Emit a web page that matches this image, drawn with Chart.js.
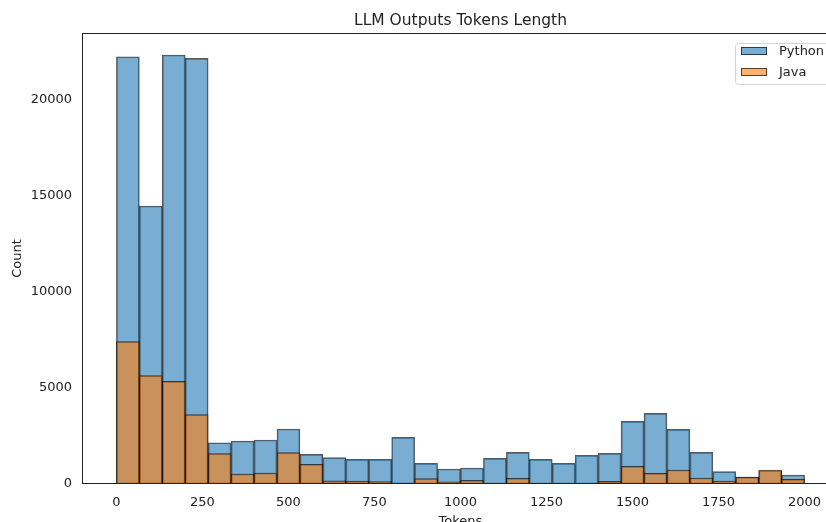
<!DOCTYPE html>
<html lang="en">
<head>
  <meta charset="UTF-8" />
  <title>LLM Outputs Tokens Length</title>
  <style>
    html, body {
      margin: 0;
      padding: 0;
      background: #fff;
      overflow: hidden;
    }
    #wrap {
      width: 870px;
      height: 532px;
    }
  </style>
</head>
<body>
  <div id="wrap"><canvas id="histChart" width="870" height="532"></canvas></div>

  <script src="https://cdn.jsdelivr.net/npm/chart.js"></script>
  <script>
    // 30 histogram bins over 0..2000 tokens (bin centres)
    const binCenters = [
      33.33, 100, 166.67, 233.33, 300, 366.67, 433.33, 500, 566.67, 633.33,
      700, 766.67, 833.33, 900, 966.67, 1033.33, 1100, 1166.67, 1233.33, 1300,
      1366.67, 1433.33, 1500, 1566.67, 1633.33, 1700, 1766.67, 1833.33, 1900, 1966.67
    ];
    const pythonCounts = [
      22255, 14480, 22345, 22170, 2150, 2240, 2290, 2865, 1545, 1372,
      1285, 1285, 2431, 1076, 781, 833, 1337, 1649, 1285, 1076,
      1493, 1597, 3264, 3681, 2847, 1649, 642, 360, 690, 469
    ];
    const javaCounts = [
      7413, 5642, 5347, 3611, 1580, 520, 573, 1632, 1024, 160,
      150, 120, 50, 278, 110, 190, 40, 295, 40, 40,
      30, 140, 920, 555, 729, 312, 156, 365, 720, 245
    ];
    const xTicks = [0, 250, 500, 750, 1000, 1250, 1500, 1750, 2000];
    const yTicks = [0, 5000, 10000, 15000, 20000];

    const textColor = '#222';
    Chart.defaults.font.family = "'DejaVu Sans', sans-serif";
    Chart.defaults.color = textColor;

    // axes frame + matplotlib style legend box
    const frameAndLegend = {
      id: 'frameAndLegend',
      afterDatasetsDraw(chart) {
        const { ctx, chartArea: a } = chart;
        ctx.save();
        ctx.strokeStyle = '#222';
        ctx.lineWidth = 1;
        ctx.strokeRect(Math.round(a.left) + 0.5, Math.round(a.top) + 0.5,
          Math.round(a.right - a.left) - 1, Math.round(a.bottom - a.top) - 1);

        const bx = a.right - 104, by = a.top + 10, bw = 97, bh = 41;
        ctx.beginPath();
        if (ctx.roundRect) ctx.roundRect(bx + 0.5, by + 0.5, bw, bh, 3);
        else ctx.rect(bx + 0.5, by + 0.5, bw, bh);
        ctx.fillStyle = 'rgba(255,255,255,0.8)';
        ctx.fill();
        ctx.strokeStyle = '#d4d4d4';
        ctx.stroke();

        const sets = chart.data.datasets;
        ctx.font = "13px 'DejaVu Sans', sans-serif";
        ctx.textBaseline = 'middle';
        ctx.textAlign = 'left';
        sets.forEach((ds, i) => {
          const py = by + 4 + i * 21;
          ctx.fillStyle = '#fff';
          ctx.fillRect(bx + 6, py, 26, 8);
          ctx.fillStyle = ds.backgroundColor;
          ctx.fillRect(bx + 6, py, 26, 8);
          ctx.strokeStyle = ds.borderColor;
          ctx.strokeRect(bx + 6.5, py + 0.5, 25, 7);
          ctx.fillStyle = textColor;
          ctx.fillText(ds.label, bx + 44, py + 4.5);
        });
        ctx.restore();
      }
    };

    const ctxHist = document.getElementById('histChart').getContext('2d');
    const histChart = new Chart(ctxHist, {
      type: 'bar',
      data: {
        datasets: [
          {
            label: 'Python',
            data: binCenters.map((x, i) => ({ x: x, y: pythonCounts[i] })),
            backgroundColor: 'rgba(31, 119, 180, 0.6)',
            borderColor: 'rgba(0, 0, 0, 0.65)',
            borderWidth: 1,
            borderSkipped: false,
            grouped: false,
            categoryPercentage: 1,
            barPercentage: 1,
            order: 1
          },
          {
            label: 'Java',
            data: binCenters.map((x, i) => ({ x: x, y: javaCounts[i] })),
            backgroundColor: 'rgba(255, 127, 14, 0.6)',
            borderColor: 'rgba(0, 0, 0, 0.65)',
            borderWidth: 1,
            borderSkipped: false,
            grouped: false,
            categoryPercentage: 1,
            barPercentage: 1,
            order: 0
          }
        ]
      },
      options: {
        responsive: false,
        animation: false,
        devicePixelRatio: 1,
        layout: { padding: { left: 0, right: 31, top: 0, bottom: 0 } },
        plugins: {
          legend: { display: false },
          tooltip: { enabled: false },
          title: {
            display: true,
            fullSize: false,
            text: 'LLM Outputs Tokens Length',
            color: textColor,
            font: { size: 15.5, weight: 'normal' },
            padding: { top: 11.7, bottom: 2.7 }
          }
        },
        scales: {
          x: {
            type: 'linear',
            min: -100,
            max: 2100,
            offset: false,
            grid: { display: false, drawTicks: false },
            border: { display: false },
            afterBuildTicks: (s) => { s.ticks = xTicks.map(v => ({ value: v })); },
            afterFit: (s) => { s.height = 48; },
            ticks: {
              padding: 10.5,
              autoSkip: false,
              maxRotation: 0,
              color: textColor,
              font: { size: 13 },
              callback: (v) => String(v)
            },
            title: {
              display: true,
              text: 'Tokens',
              color: textColor,
              font: { size: 13 },
              padding: { top: 0, bottom: 2.5 }
            }
          },
          y: {
            min: 0,
            max: 23490,
            grid: { display: false, drawTicks: false },
            border: { display: false },
            afterBuildTicks: (s) => { s.ticks = yTicks.map(v => ({ value: v })); },
            afterFit: (s) => { s.width = 82; },
            ticks: {
              padding: 10,
              color: textColor,
              font: { size: 13 },
              callback: (v) => String(v)
            },
            title: {
              display: true,
              text: 'Count',
              color: textColor,
              font: { size: 13 },
              padding: { top: 9.7, bottom: 0 }
            }
          }
        }
      },
      plugins: [frameAndLegend]
    });
  </script>
</body>
</html>
